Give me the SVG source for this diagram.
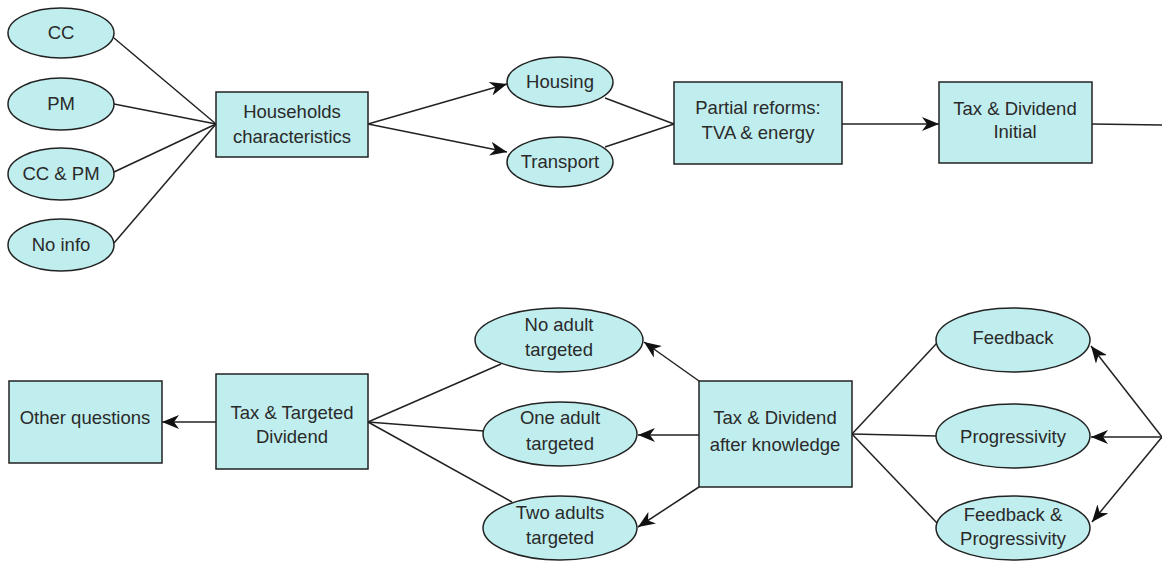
<svg xmlns="http://www.w3.org/2000/svg" width="1162" height="563" viewBox="0 0 1162 563">
<style>
.n{fill:#c0eeee;stroke:#222;stroke-width:1.5}
.t{font-family:"Liberation Sans",Arial,sans-serif;font-size:18.5px;fill:#2a2a2a;text-anchor:middle}
.e{fill:none;stroke:#222;stroke-width:1.5}
.a{marker-end:url(#arr)}
</style>
<defs>
<marker id="arr" markerUnits="userSpaceOnUse" markerWidth="18" markerHeight="14" viewBox="0 0 18 14" refX="17" refY="7" orient="auto">
<path d="M0,0 L17,7 L0,14 L5,7 z" fill="#111"/>
</marker>
</defs>
<rect width="1162" height="563" fill="#fff"/>
<g id="edges">
<line class="e" x1="114" y1="38" x2="216" y2="124"/>
<line class="e" x1="114" y1="104" x2="216" y2="124"/>
<line class="e" x1="114" y1="172" x2="216" y2="124"/>
<line class="e" x1="114" y1="243" x2="216" y2="124"/>
<line class="e a" x1="368" y1="124" x2="507" y2="84"/>
<line class="e a" x1="368" y1="124" x2="507" y2="152"/>
<line class="e" x1="605" y1="98" x2="674" y2="124"/>
<line class="e" x1="605" y1="147" x2="674" y2="124"/>
<line class="e a" x1="842" y1="124" x2="939" y2="124"/>
<line class="e" x1="1092" y1="124" x2="1162" y2="125"/>
<line class="e a" x1="216" y1="422" x2="162" y2="422"/>
<line class="e" x1="368" y1="422" x2="501" y2="364"/>
<line class="e" x1="368" y1="422" x2="484" y2="431"/>
<line class="e" x1="368" y1="422" x2="512" y2="502"/>
<line class="e a" x1="699" y1="381" x2="644" y2="342"/>
<line class="e a" x1="699" y1="435" x2="638" y2="435"/>
<line class="e a" x1="699" y1="487" x2="638" y2="527"/>
<line class="e" x1="852" y1="434" x2="937" y2="343"/>
<line class="e" x1="852" y1="434" x2="937" y2="436"/>
<line class="e" x1="852" y1="434" x2="937" y2="523"/>
<line class="e a" x1="1162" y1="437" x2="1091" y2="346"/>
<line class="e a" x1="1162" y1="437" x2="1091" y2="437"/>
<line class="e a" x1="1162" y1="437" x2="1092" y2="522"/>
</g>
<g id="cc"><ellipse class="n" cx="61" cy="33" rx="53" ry="25"/><text class="t" x="61" y="39">CC</text></g>
<g id="pm"><ellipse class="n" cx="61" cy="104" rx="53" ry="26"/><text class="t" x="61" y="110">PM</text></g>
<g id="ccpm"><ellipse class="n" cx="61" cy="174" rx="53" ry="26"/><text class="t" x="61" y="180">CC &amp; PM</text></g>
<g id="noinfo"><ellipse class="n" cx="61" cy="245" rx="53" ry="26"/><text class="t" x="61" y="251">No info</text></g>
<g id="households"><rect class="n" x="216" y="92" width="152" height="65"/><text class="t" x="292" y="118">Households</text><text class="t" x="292" y="143">characteristics</text></g>
<g id="housing"><ellipse class="n" cx="560" cy="82" rx="53" ry="25"/><text class="t" x="560" y="88">Housing</text></g>
<g id="transport"><ellipse class="n" cx="560" cy="162" rx="53" ry="25"/><text class="t" x="560" y="168">Transport</text></g>
<g id="partial"><rect class="n" x="674" y="82" width="168" height="82"/><text class="t" x="758" y="114">Partial reforms:</text><text class="t" x="758" y="139">TVA &amp; energy</text></g>
<g id="tdinitial"><rect class="n" x="939" y="82" width="153" height="81"/><text class="t" x="1015" y="115">Tax &amp; Dividend</text><text class="t" x="1015" y="138">Initial</text></g>
<g id="other"><rect class="n" x="9" y="381" width="153" height="82"/><text class="t" x="85" y="424">Other questions</text></g>
<g id="ttd"><rect class="n" x="216" y="374" width="152" height="95"/><text class="t" x="292" y="419">Tax &amp; Targeted</text><text class="t" x="292" y="443">Dividend</text></g>
<g id="noadult"><ellipse class="n" cx="559" cy="340" rx="84" ry="32"/><text class="t" x="559" y="331">No adult</text><text class="t" x="559" y="356">targeted</text></g>
<g id="oneadult"><ellipse class="n" cx="560" cy="434" rx="77" ry="32"/><text class="t" x="560" y="424">One adult</text><text class="t" x="560" y="450">targeted</text></g>
<g id="twoadults"><ellipse class="n" cx="560" cy="528" rx="77" ry="32"/><text class="t" x="560" y="519">Two adults</text><text class="t" x="560" y="544">targeted</text></g>
<g id="tdak"><rect class="n" x="699" y="381" width="153" height="106"/><text class="t" x="775" y="424">Tax &amp; Dividend</text><text class="t" x="775" y="451">after knowledge</text></g>
<g id="feedback"><ellipse class="n" cx="1013" cy="340" rx="77" ry="32"/><text class="t" x="1013" y="344">Feedback</text></g>
<g id="progressivity"><ellipse class="n" cx="1013" cy="436" rx="77" ry="32"/><text class="t" x="1013" y="443">Progressivity</text></g>
<g id="fp"><ellipse class="n" cx="1013" cy="528" rx="77" ry="32"/><text class="t" x="1013" y="521">Feedback &amp;</text><text class="t" x="1013" y="545">Progressivity</text></g>
</svg>
